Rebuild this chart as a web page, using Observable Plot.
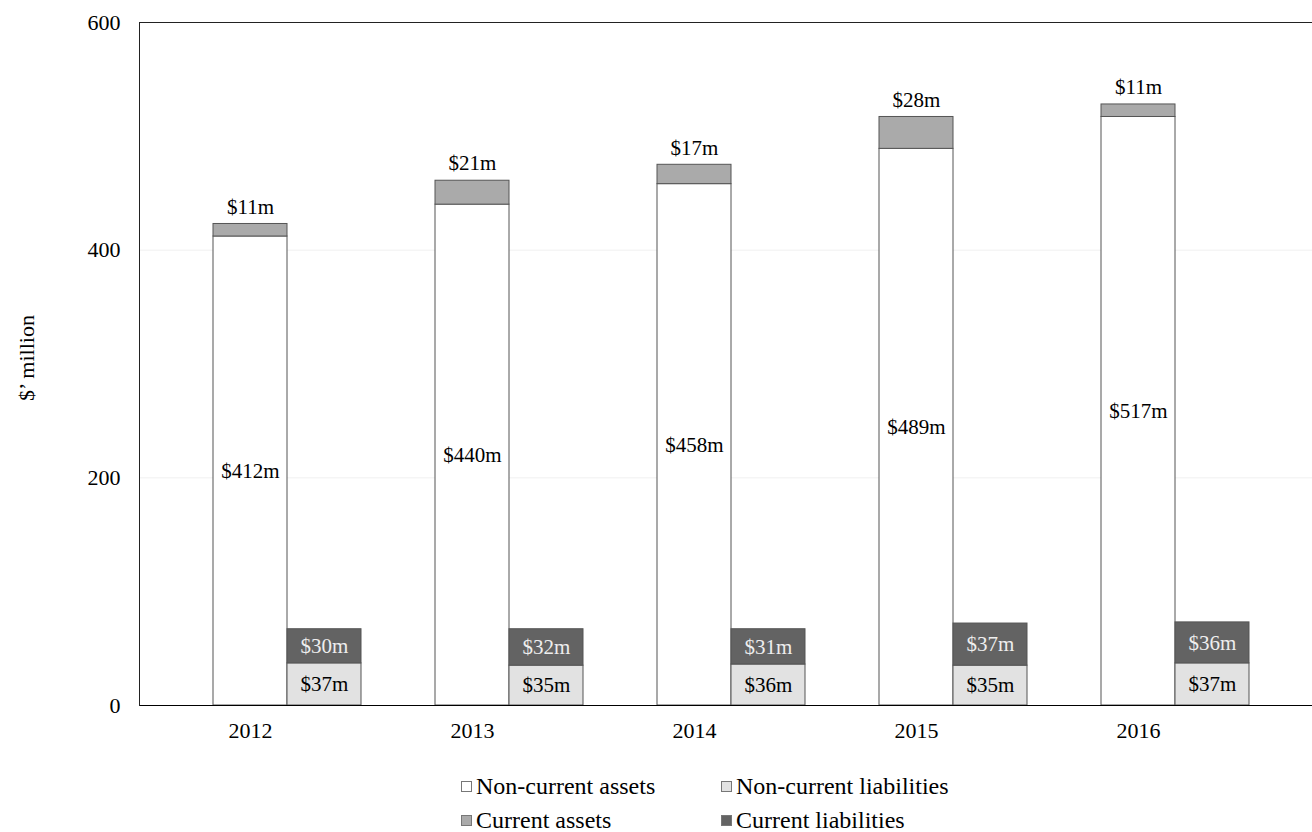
<!DOCTYPE html>
<html>
<head>
<meta charset="utf-8">
<script src="https://cdn.jsdelivr.net/npm/d3@7"></script>
<script src="https://cdn.jsdelivr.net/npm/@observablehq/plot@0.6"></script>
<style>
  body { margin: 0; background: #fff; font-family: "Liberation Serif", "Times New Roman", serif; }
  #chart { position: relative; width: 1312px; height: 832px; }
  .legend { position: absolute; left: 461px; top: 774px; display: grid; grid-template-columns: 260px auto; grid-auto-rows: 24px; row-gap: 10px; font-size: 24px; line-height: 24px; color: #000; }
  .legend span.item { display: flex; align-items: center; white-space: nowrap; height: 24px; }
  .legend i { display: inline-block; width: 11px; height: 11px; border: 1px solid #777; margin-right: 4px; box-sizing: border-box; }
</style>
</head>
<body>
<div id="chart"></div>
<script>
const years = ["2012", "2013", "2014", "2015", "2016"];
const nonCurrentAssets = [412, 440, 458, 489, 517];
const currentAssets = [11, 21, 17, 28, 11];
const nonCurrentLiabilities = [37, 35, 36, 35, 37];
const currentLiabilities = [30, 32, 31, 37, 36];
const seriesNames = ["Non-current assets", "Current assets", "Non-current liabilities", "Current liabilities"];
const seriesColors = ["#ffffff", "#aaaaaa", "#e2e2e2", "#636363"];
const yTicks = [0, 200, 400, 600];

const assets = years.flatMap((year, i) => [
  {year, series: seriesNames[0], value: nonCurrentAssets[i]},
  {year, series: seriesNames[1], value: currentAssets[i]}
]);
const liabilities = years.flatMap((year, i) => [
  {year, series: seriesNames[2], value: nonCurrentLiabilities[i]},
  {year, series: seriesNames[3], value: currentLiabilities[i]}
]);
const fmt = d => `$${d.value}m`;
const font = "Liberation Serif";
const FS = 22;
const LS = 21;

const chart = Plot.plot({
  width: 1312,
  height: 750,
  marginLeft: 139,
  marginRight: 0,
  marginTop: 22,
  marginBottom: 45,
  style: {fontFamily: font, fontSize: FS + "px", color: "#000", background: "#fff"},
  x: {domain: years, range: [139, 1249], paddingInner: 2/3, paddingOuter: 1/3, label: null},
  y: {domain: [0, 600], label: null},
  color: {domain: seriesNames, range: seriesColors},
  marks: [
    Plot.ruleY([200, 400], {stroke: "#f0f0f0"}),
    Plot.barY(assets, {x: "year", y: "value", z: "series", fill: "series", stroke: "#555", strokeWidth: 1, order: seriesNames}),
    Plot.barY(liabilities, {x: "year", y: "value", z: "series", fill: "series", stroke: "#555", strokeWidth: 1, dx: 74, order: seriesNames}),
    Plot.text(assets, Plot.stackY({x: "year", y: "value", z: "series", order: seriesNames, text: d => d.series === seriesNames[0] ? fmt(d) : "", fontSize: LS, fill: "#000"})),
    Plot.text(assets, Plot.stackY2({x: "year", y: "value", z: "series", order: seriesNames, text: d => d.series === seriesNames[1] ? fmt(d) : "", fontSize: LS, fill: "#000", dy: -17})),
    Plot.text(liabilities, Plot.stackY({x: "year", y: "value", z: "series", order: seriesNames, text: fmt, fontSize: LS, dx: 74, fill: d => d.series === seriesNames[3] ? "#eeeeee" : "#000000"})),
    Plot.ruleY([0], {stroke: "#000", strokeWidth: 1.2}),
    Plot.ruleY([600], {stroke: "#222", strokeWidth: 1}),
    Plot.frame({anchor: "left", stroke: "#222"}),
    Plot.axisX({tickSize: 0, tickPadding: 17, fontSize: FS, label: null}),
    Plot.axisY({ticks: yTicks, tickSize: 0, tickPadding: 19, fontSize: FS, label: null})
  ]
});
const root = document.getElementById("chart");
root.appendChild(chart);

// y axis title
const svg = d3.select(chart);
svg.append("text")
  .attr("transform", "translate(29,358) rotate(-90)")
  .attr("text-anchor", "middle")
  .attr("dominant-baseline", "middle")
  .attr("font-size", FS)
  .attr("font-family", font)
  .text("$\u2019 million");

// legend
const legend = document.createElement("div");
legend.className = "legend";
const legendOrder = [0, 2, 1, 3];
for (const k of legendOrder) {
  const item = document.createElement("span");
  item.className = "item";
  const sw = document.createElement("i");
  sw.style.background = seriesColors[k];
  item.appendChild(sw);
  item.appendChild(document.createTextNode(seriesNames[k]));
  legend.appendChild(item);
}
root.appendChild(legend);
</script>
</body>
</html>
